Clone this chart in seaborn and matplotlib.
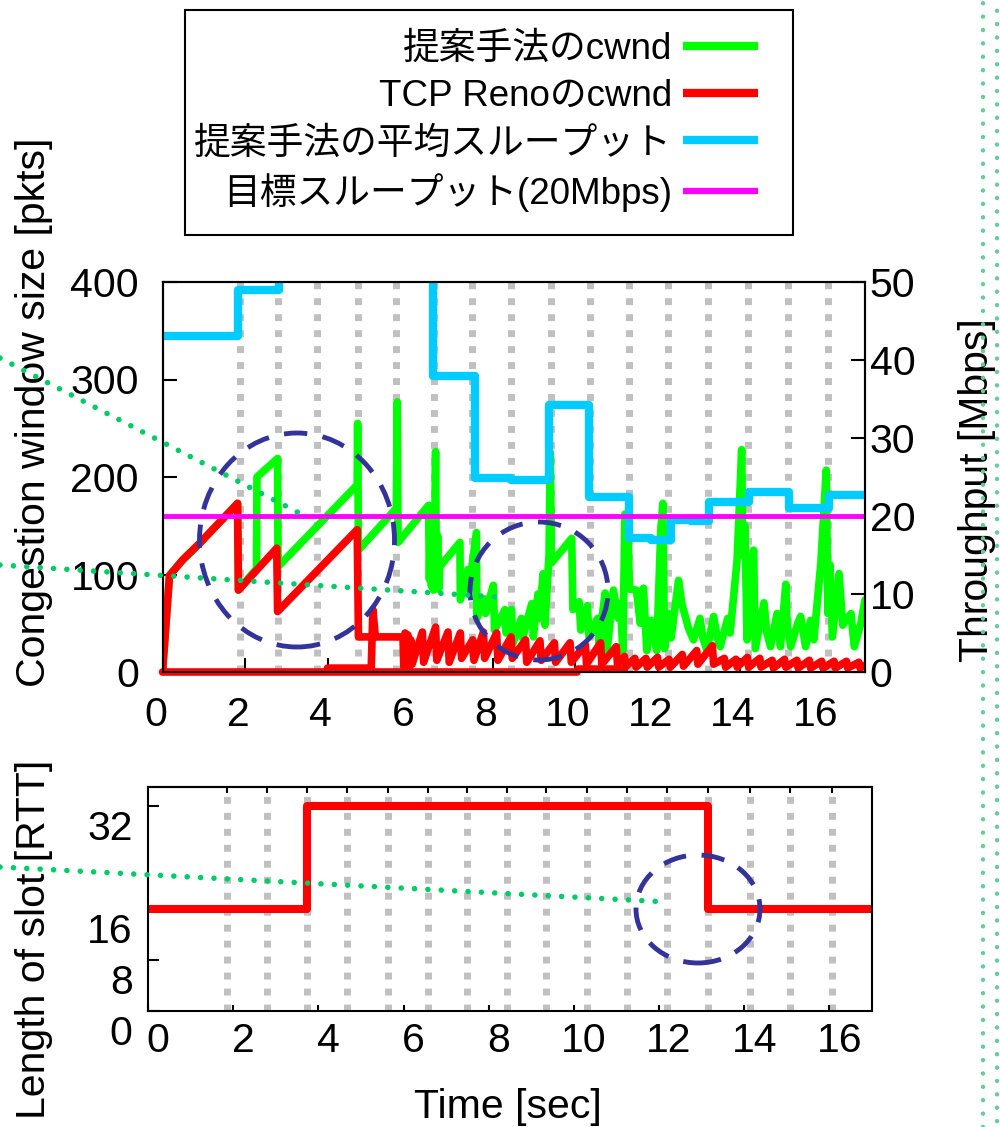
import matplotlib
matplotlib.use('Agg')
from matplotlib import pyplot as plt
from matplotlib.lines import Line2D
from matplotlib.patches import Ellipse, Rectangle
from matplotlib.transforms import ScaledTranslation
import seaborn as sns

# ---- values ----
# proposed method cwnd [pkts] over time [sec]
green_t = [0.00, 0.17, 0.49, 0.90, 1.82, 1.84, 2.28, 2.29, 2.79, 2.80,
           4.72, 4.73, 4.75, 5.67, 5.69, 5.71, 6.45, 6.47, 6.50, 6.52,
           6.55, 6.57, 6.60, 6.62, 6.64, 6.67, 6.70, 6.72, 7.21, 7.22,
           7.40, 7.43, 7.61, 7.62, 7.80, 7.83, 8.02, 8.05, 8.30, 8.33,
           8.46, 8.50, 8.70, 8.73, 8.95, 8.99, 9.10, 9.13, 9.23, 9.27,
           9.37, 9.40, 9.43, 9.92, 9.95, 10.10, 10.14, 10.30, 10.34, 10.55,
           10.58, 10.73, 10.77, 10.93, 11.05, 11.10, 11.16, 11.21, 11.24, 11.28,
           11.32, 11.49, 11.58, 11.66, 11.74, 11.85, 11.98, 12.08, 12.13, 12.17,
           12.30, 12.33, 12.51, 12.59, 12.75, 12.87, 13.03, 13.10, 13.20, 13.36,
           13.45, 13.52, 13.70, 13.76, 13.93, 14.04, 14.07, 14.12, 14.17, 14.30,
           14.33, 14.37, 14.58, 14.65, 14.74, 14.90, 14.98, 15.11, 15.14, 15.23,
           15.40, 15.47, 15.59, 15.71, 15.79, 15.96, 16.09, 16.13, 16.18, 16.24,
           16.40, 16.49, 16.60, 16.69, 16.77, 16.93, 17.03]
green_cwnd = [0, 99, 115, 132, 173, 84, 106, 200, 219, 108,
              192, 255, 125, 168, 277, 133, 171, 95, 168, 88,
              160, 84, 150, 226, 90, 140, 85, 108, 133, 74,
              105, 85, 143, 55, 75, 60, 89, 43, 64, 40,
              64, 30, 55, 35, 70, 36, 80, 55, 101, 48,
              120, 225, 112, 137, 64, 72, 43, 68, 36, 55,
              30, 81, 19, 84, 55, 70, 22, 162, 95, 150,
              85, 84, 50, 86, 22, 53, 22, 146, 173, 24,
              60, 35, 94, 70, 45, 33, 55, 35, 22, 57,
              35, 26, 55, 40, 115, 228, 120, 150, 33, 110,
              125, 24, 71, 40, 26, 60, 26, 90, 50, 26,
              50, 57, 26, 53, 33, 112, 207, 60, 110, 36,
              101, 48, 55, 60, 26, 50, 74]

# TCP Reno cwnd [pkts]
reno_t = [0.00, 0.17, 0.49, 0.90, 1.82, 1.84, 2.77, 2.79, 4.72, 4.75,
          5.83, 5.85, 5.88, 5.91, 5.95, 5.98, 6.02, 6.05, 6.30, 6.33,
          6.62, 6.65, 6.92, 6.95, 7.22, 7.25, 7.52, 7.55, 7.78, 7.81,
          8.10, 8.13, 8.45, 8.48, 8.80, 8.83, 9.15, 9.18, 9.50, 9.53,
          9.88, 9.91, 10.25, 10.28, 10.62, 10.65, 11.00, 11.03, 11.20, 11.24,
          11.45, 11.48, 11.72, 11.75, 12.00, 12.03, 12.28, 12.31, 12.60, 12.63,
          12.95, 12.98, 13.33, 13.36, 13.62, 13.65, 13.90, 13.93, 14.18, 14.21,
          14.48, 14.51, 14.78, 14.81, 15.08, 15.11, 15.38, 15.41, 15.68, 15.71,
          15.98, 16.01, 16.28, 16.31, 16.58, 16.61, 16.88, 16.91, 17.03]
reno_cwnd = [0, 99, 115, 132, 173, 84, 127, 62, 146, 36,
             36, 5, 40, 6, 38, 4, 33, 8, 41, 10,
             46, 12, 41, 10, 40, 14, 33, 12, 41, 14,
             40, 12, 36, 14, 33, 10, 32, 12, 30, 10,
             30, 10, 28, 8, 30, 8, 26, 8, 16, 6,
             14, 5, 14, 5, 15, 5, 13, 5, 18, 6,
             22, 8, 27, 8, 14, 5, 13, 5, 15, 5,
             14, 5, 12, 4, 13, 5, 12, 4, 12, 4,
             11, 4, 11, 4, 11, 4, 10, 4, 7]
reno_zero_t = [0.0, 10.05, 10.07, 11.2]
reno_zero = [0, 0, 3, 3]
reno_spike_t = [4.0, 5.06, 5.10, 5.16]
reno_spike = [4, 4, 64, 36]

# average throughput of the proposed method [Mbps] (step)
tput_t = [0.0, 1.84, 2.82, 6.55, 7.57, 8.45, 9.37, 10.34, 11.31, 11.85,
          12.33, 12.80, 13.25, 14.22, 15.19, 16.16, 17.03]
tput = [43.1, 49.0, 56.0, 38.0, 24.9, 24.6, 34.2, 22.4, 17.2, 16.9,
        19.5, 19.3, 21.8, 23.1, 21.0, 22.7, 22.7]
target_t = [0.0, 17.03]
target = [20, 20]

# slot length [RTT] (step)
slot_t = [0.0, 3.73, 13.15, 17.0]
slot_len = [16, 32, 16, 16]

# slot boundaries (gray dotted lines)
slots_top = [1.87, 2.79, 3.74, 4.73, 5.66, 6.58, 7.50, 8.45, 9.42, 10.36,
             11.31, 12.26, 13.23, 14.20, 15.17, 16.14]
slots_bottom = [1.85, 2.79, 3.73, 4.67, 5.63, 6.57, 7.49, 8.43, 9.34, 10.31,
                11.24, 12.18, 13.15, 14.13, 15.07, 16.06]

labels = ['提案手法のcwnd', 'TCP Renoのcwnd', '提案手法の平均スループット',
          '目標スループット(20Mbps)']
colors = ['#00ff00', '#ff0000', '#00ccff', '#ff00ff']

sns.set_style('ticks', {'axes.edgecolor': 'black', 'xtick.color': 'black',
                        'ytick.color': 'black', 'text.color': 'black',
                        'axes.labelcolor': 'black'})
plt.rcParams['font.family'] = ['Liberation Sans', 'Noto Sans CJK JP']
plt.rcParams['axes.linewidth'] = 1.5

W, H = 1000, 1127
fig = plt.figure(figsize=(10, 11.27), dpi=100)

GRAY = dict(color='#c0c0c0', lw=5, ls=(0, (1, 1.3)), zorder=0.5)
FS = 29.5
LW = 5.5

# ---- top panel: cwnd + throughput ----
ax = fig.add_axes([162.5 / W, 1 - 672 / H, 702.5 / W, 390 / H])
for s in slots_top:
    ax.axvline(s, **GRAY)
sns.lineplot(x=green_t, y=green_cwnd, ax=ax, color=colors[0], lw=LW,
             sort=False, estimator=None)
sns.lineplot(x=reno_zero_t, y=reno_zero, ax=ax, color=colors[1], lw=LW,
             sort=False, estimator=None, clip_on=False, zorder=3)
sns.lineplot(x=reno_spike_t, y=reno_spike, ax=ax, color=colors[1], lw=LW,
             sort=False, estimator=None, zorder=3)
sns.lineplot(x=reno_t, y=reno_cwnd, ax=ax, color=colors[1], lw=LW,
             sort=False, estimator=None, zorder=3)
ax.set_xlim(0, 17.03)
ax.set_ylim(0, 400)
ax.set_xticks(range(0, 17, 2))
ax.set_yticks(range(0, 401, 100))
ax.tick_params(direction='in', length=10, width=1.5, labelsize=FS)
ax.tick_params(axis='x', pad=17)
ax.tick_params(axis='y', pad=17)
for lab in ax.get_xticklabels():
    lab.set_transform(lab.get_transform() +
                      ScaledTranslation(-0.07, 0, fig.dpi_scale_trans))
ax.set_xlabel('')
ax.set_ylabel('Congestion window size [pkts]', fontsize=FS)
ax.yaxis.set_label_coords(0.053, 1 - 412 / H, transform=fig.transFigure)

ax2 = ax.twinx()
sns.lineplot(x=tput_t, y=tput, ax=ax2, color=colors[2], lw=LW + 0.5,
             drawstyle='steps-post', sort=False, estimator=None)
sns.lineplot(x=target_t, y=target, ax=ax2, color=colors[3], lw=3.5,
             sort=False, estimator=None)
ax2.set_ylim(0, 50)
ax2.set_xlim(0, 17.03)
ax2.set_yticks(range(0, 51, 10))
ax2.tick_params(direction='in', length=10, width=1.5, labelsize=FS, pad=3.5)
ax2.set_ylabel('Throughput [Mbps]', fontsize=FS)
ax2.yaxis.set_label_coords(0.958, 1 - 490 / H, transform=fig.transFigure)

# ---- bottom panel: slot length ----
ax3 = fig.add_axes([148 / W, 1 - 1011 / H, 724 / W, 224 / H])
for s in slots_bottom:
    ax3.axvline(s, **GRAY)
sns.lineplot(x=slot_t, y=slot_len, ax=ax3, color=colors[1], lw=LW + 0.3,
             drawstyle='steps-post', sort=False, estimator=None)
ax3.set_xlim(0, 17.0)
ax3.set_ylim(0, 35)
ax3.set_xticks(range(0, 17, 2))
ax3.set_yticks([0, 8, 16, 32])
ax3.tick_params(axis='x', direction='in', length=4, width=1.5,
                labelsize=FS, pad=8)
ax3.tick_params(axis='y', direction='in', length=8, width=1.5,
                labelsize=FS, pad=11)
for lab in ax3.get_xticklabels():
    lab.set_transform(lab.get_transform() +
                      ScaledTranslation(0.10, 0, fig.dpi_scale_trans))
for lab in ax3.get_yticklabels():
    lab.set_transform(lab.get_transform() +
                      ScaledTranslation(0, -0.19, fig.dpi_scale_trans))
sec = ax3.secondary_xaxis('top')
sec.set_xticks(slots_bottom)
sec.tick_params(direction='in', length=4, width=1.5, labeltop=False)
ax3.set_xlabel('Time [sec]', fontsize=FS)
ax3.xaxis.set_label_coords(0.508, 1 - 1088 / H, transform=fig.transFigure)
ax3.set_ylabel('Length of slot [RTT]', fontsize=FS)
ax3.yaxis.set_label_coords(0.053, 1 - 939 / H, transform=fig.transFigure)

# ---- legend: entries right-aligned, frame drawn separately ----
handles = [Line2D([], [], color=c, lw=6, solid_capstyle='butt')
           for c in colors]
handles[3].set_linewidth(4.5)
fig.legend(handles, labels, loc='upper right',
           bbox_to_anchor=(758 / 1000, 1 - 32 / 1127), markerfirst=False,
           frameon=False, fontsize=26.5, handlelength=2.04,
           handletextpad=0.3, labelspacing=0.33, borderpad=0,
           borderaxespad=0)
fig.add_artist(Rectangle((185 / W, 1 - 235 / H), 608 / W, 225 / H,
                         transform=fig.transFigure, fill=False,
                         ec='black', lw=1.5))


# ---- annotation marks (dashed circles, dotted leader lines) ----
def fx(x):
    return x / W


def fy(y):
    return 1 - y / H


for cx, cy, w, h in [(297, 540, 195, 214), (539, 591, 138, 138),
                     (698, 909, 124, 108)]:
    fig.add_artist(Ellipse((fx(cx), fy(cy)), w / W, h / H,
                           transform=fig.transFigure, fill=False,
                           ec='#333399', lw=3.5, ls=(0, (4.8, 3.2)), zorder=5))

for (x0, y0), (x1, y1) in [((0, 358), (305, 516)), ((0, 565), (497, 597)),
                           ((0, 867), (668, 902))]:
    fig.add_artist(Line2D([fx(x0), fx(x1)], [fy(y0), fy(y1)],
                          transform=fig.transFigure, color='#00cc66', lw=4,
                          ls=(0, (0.01, 2.4)), dash_capstyle='round',
                          zorder=6))

for xv, off in [(983, 0), (997, 4.7)]:
    fig.add_artist(Line2D([fx(xv), fx(xv)], [0, 1],
                          transform=fig.transFigure, color='#66cc99', lw=3.2,
                          ls=(off, (0.01, 3.0)), dash_capstyle='round',
                          zorder=6))

fig.savefig('out.png', dpi=100)
